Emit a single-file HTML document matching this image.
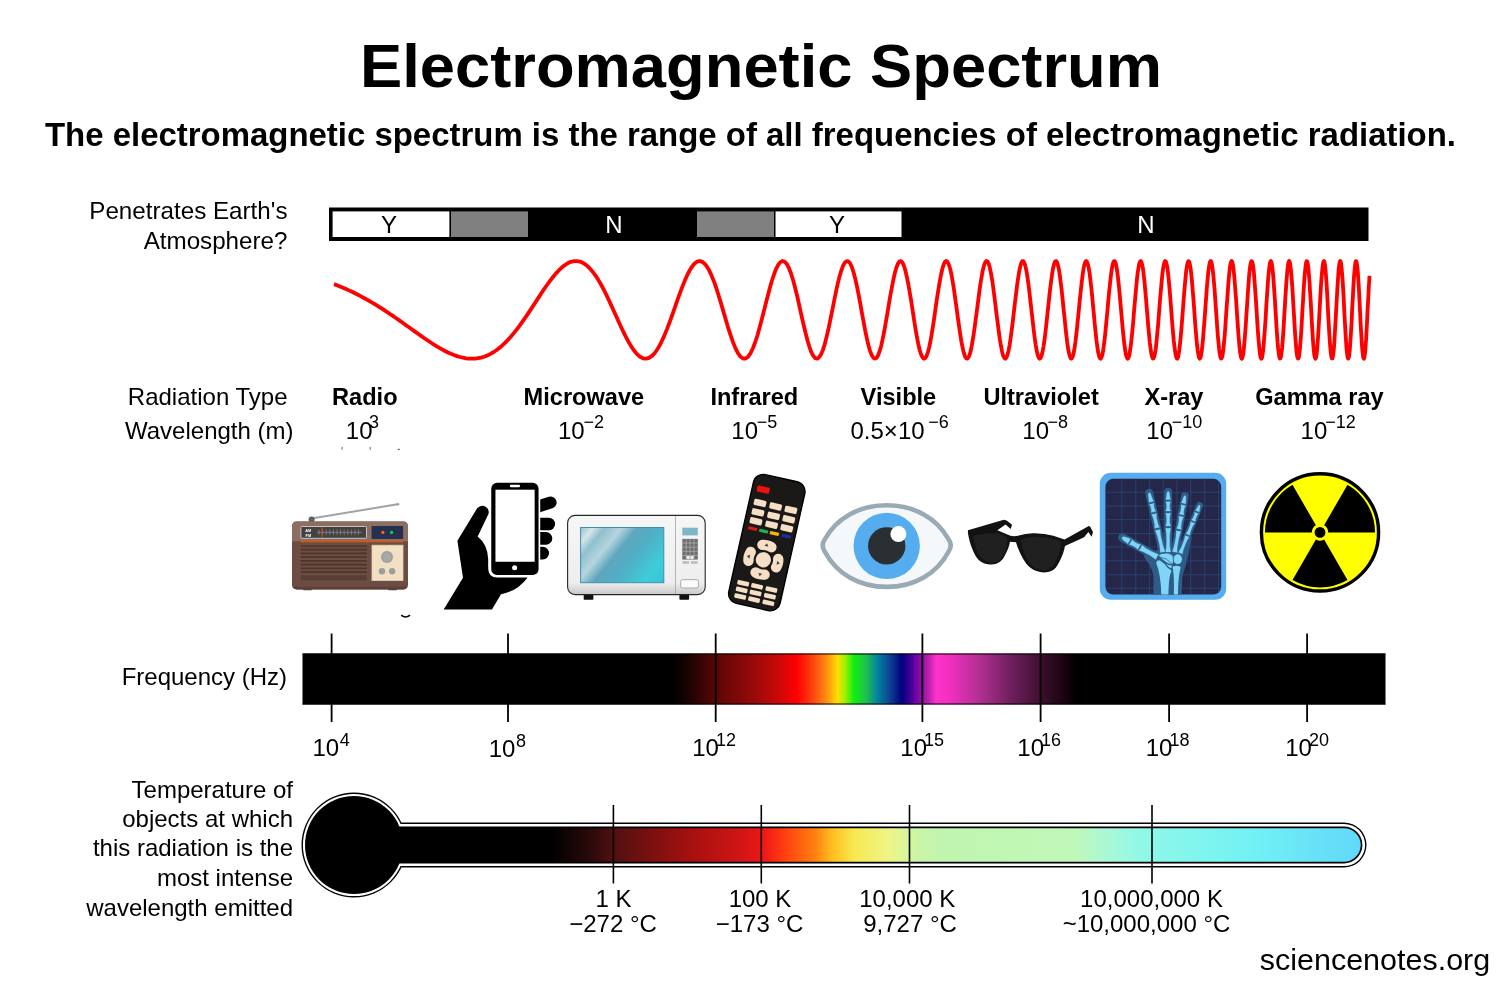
<!DOCTYPE html>
<html lang="en">
<head>
<meta charset="utf-8">
<title>Electromagnetic Spectrum</title>
<style>
html,body{margin:0;padding:0;background:#fff;}
body{width:1500px;height:1000px;overflow:hidden;}
svg{display:block;}
text{font-family:"Liberation Sans",Arial,sans-serif;fill:#000;}
.b{font-weight:bold;}
.l{font-size:24px;}
.s{font-size:18px;}
.e{text-anchor:end;}
.m{text-anchor:middle;}
</style>
</head>
<body>
<svg width="1500" height="1000" viewBox="0 0 1500 1000">
<defs>
<linearGradient id="gf" gradientUnits="userSpaceOnUse" x1="302" y1="0" x2="1386" y2="0">
<stop offset="0.0000" stop-color="#000"/>
<stop offset="0.3432" stop-color="#000"/>
<stop offset="0.3625" stop-color="#2a0404"/>
<stop offset="0.3819" stop-color="#5a0606"/>
<stop offset="0.4179" stop-color="#9a0a0a"/>
<stop offset="0.4400" stop-color="#cc0808"/>
<stop offset="0.4566" stop-color="#ff0000"/>
<stop offset="0.4705" stop-color="#ff4010"/>
<stop offset="0.4843" stop-color="#ff9010"/>
<stop offset="0.4940" stop-color="#ffdd00"/>
<stop offset="0.5009" stop-color="#a0f000"/>
<stop offset="0.5092" stop-color="#10ee10"/>
<stop offset="0.5203" stop-color="#20c050"/>
<stop offset="0.5314" stop-color="#0080a0"/>
<stop offset="0.5424" stop-color="#104090"/>
<stop offset="0.5535" stop-color="#000080"/>
<stop offset="0.5646" stop-color="#6000a0"/>
<stop offset="0.5784" stop-color="#c020b0"/>
<stop offset="0.5853" stop-color="#ff33cc"/>
<stop offset="0.5978" stop-color="#f030c0"/>
<stop offset="0.6255" stop-color="#b03090"/>
<stop offset="0.6531" stop-color="#702060"/>
<stop offset="0.6808" stop-color="#401030"/>
<stop offset="0.7085" stop-color="#100008"/>
<stop offset="0.7140" stop-color="#000"/>
<stop offset="1.0000" stop-color="#000"/>
</linearGradient>
<linearGradient id="gt" gradientUnits="userSpaceOnUse" x1="400" y1="0" x2="1366" y2="0">
<stop offset="0.0000" stop-color="#000"/>
<stop offset="0.1563" stop-color="#000"/>
<stop offset="0.1967" stop-color="#2a0a0a"/>
<stop offset="0.2205" stop-color="#501010"/>
<stop offset="0.2743" stop-color="#8a1010"/>
<stop offset="0.3054" stop-color="#aa1010"/>
<stop offset="0.3520" stop-color="#d01515"/>
<stop offset="0.3768" stop-color="#f01818"/>
<stop offset="0.3986" stop-color="#ff4010"/>
<stop offset="0.4296" stop-color="#ff8010"/>
<stop offset="0.4482" stop-color="#ffc020"/>
<stop offset="0.4700" stop-color="#f8e850"/>
<stop offset="0.5072" stop-color="#eef588"/>
<stop offset="0.5383" stop-color="#c8f5a8"/>
<stop offset="0.5631" stop-color="#c0f5b0"/>
<stop offset="0.6977" stop-color="#c0f8b8"/>
<stop offset="0.7350" stop-color="#a8f8d8"/>
<stop offset="0.7660" stop-color="#90f8e8"/>
<stop offset="0.8282" stop-color="#80f5ee"/>
<stop offset="0.8903" stop-color="#70f0f5"/>
<stop offset="0.9524" stop-color="#68e0f8"/>
<stop offset="1.0000" stop-color="#60d8fa"/>
</linearGradient>
</defs>
<rect width="1500" height="1000" fill="#fff"/>

<!-- headings -->
<text class="b" x="360" y="87" font-size="62" textLength="802" lengthAdjust="spacingAndGlyphs">Electromagnetic Spectrum</text>
<text class="b" x="45" y="146" font-size="32.5" textLength="1411" lengthAdjust="spacingAndGlyphs">The electromagnetic spectrum is the range of all frequencies of electromagnetic radiation.</text>

<!-- atmosphere bar -->
<g id="atm">
<rect x="329" y="207.5" width="1039.5" height="33.5" fill="#000"/>
<rect x="332.6" y="211.4" width="116.8" height="25.6" fill="#fff"/>
<rect x="451" y="211.4" width="77" height="25.6" fill="#808080"/>
<rect x="697" y="211.4" width="77" height="25.6" fill="#808080"/>
<rect x="775.5" y="211.4" width="126" height="25.6" fill="#fff"/>
<text class="l m" x="389" y="232.6">Y</text>
<text class="l m" x="614" y="232.6" style="fill:#fff">N</text>
<text class="l m" x="837" y="232.6">Y</text>
<text class="l m" x="1146" y="232.6" style="fill:#fff">N</text>
</g>
<text class="l e" x="287.5" y="219.1" style="font-size:24.2px">Penetrates Earth's</text>
<text class="l e" x="287.5" y="248.7" style="font-size:24.2px">Atmosphere?</text>

<!-- wave -->
<path id="wave" fill="none" stroke="#ff0000" stroke-width="3.8" stroke-linejoin="round" d="M334.0,284.1 337.0,285.2 340.0,286.5 343.0,287.7 346.0,289.0 349.0,290.4 352.0,291.8 355.0,293.3 358.0,294.8 361.0,296.4 364.0,298.0 367.0,299.6 370.0,301.4 373.0,303.1 376.0,304.9 379.0,306.8 382.0,308.7 385.0,310.7 388.0,312.6 391.0,314.7 394.0,316.7 397.0,318.8 400.0,320.9 403.0,323.0 406.0,325.2 409.0,327.3 412.0,329.5 415.0,331.6 418.0,333.8 421.0,335.9 424.0,338.0 427.0,340.0 430.0,342.0 433.0,344.0 436.0,345.9 439.0,347.7 442.0,349.4 445.0,351.0 448.0,352.5 451.0,353.8 454.0,355.0 457.0,356.1 460.0,357.0 463.0,357.7 466.0,358.3 469.0,358.6 472.0,358.7 475.0,358.6 478.0,358.2 481.0,357.6 484.0,356.7 487.0,355.6 490.0,354.2 493.0,352.5 496.0,350.5 499.0,348.2 502.0,345.7 505.0,342.9 508.0,339.8 511.0,336.5 514.0,332.9 517.0,329.1 520.0,325.1 523.0,320.9 526.0,316.6 529.0,312.1 532.0,307.6 535.0,303.0 538.0,298.4 541.0,293.8 544.0,289.3 547.0,285.0 550.0,280.9 553.0,277.0 556.0,273.4 559.0,270.2 562.0,267.3 565.0,265.0 568.0,263.1 571.0,261.8 574.0,261.1 577.0,261.1 580.0,261.6 583.0,262.9 586.0,264.9 589.0,267.5 592.0,270.9 595.0,274.8 598.0,279.4 601.0,284.5 604.0,290.2 607.0,296.2 610.0,302.6 613.0,309.2 616.0,315.8 619.0,322.5 622.0,329.0 625.0,335.2 628.0,340.9 631.0,346.1 634.0,350.5 637.0,354.1 640.0,356.7 643.0,358.3 646.0,358.7 649.0,357.9 652.0,355.9 655.0,352.7 658.0,348.3 661.0,342.8 664.0,336.4 667.0,329.1 670.0,321.2 673.0,312.8 676.0,304.2 679.0,295.7 682.0,287.6 685.0,280.1 688.0,273.5 691.0,268.1 694.0,264.1 697.0,261.7 699.9,261.0 702.8,262.1 705.7,264.9 708.6,269.2 711.4,275.1 714.2,282.1 717.0,290.2 719.7,299.0 722.4,308.1 725.1,317.3 727.7,326.3 730.4,334.7 733.0,342.1 735.5,348.4 738.1,353.4 740.6,356.8 743.1,358.5 745.6,358.5 748.1,356.7 750.5,353.3 752.9,348.3 755.3,342.0 757.7,334.5 760.0,326.1 762.4,317.1 764.7,307.9 767.0,298.8 769.3,290.0 771.5,282.0 773.8,275.0 776.0,269.2 778.2,264.8 780.4,262.1 782.6,261.0 784.7,261.7 786.9,264.1 789.0,268.2 791.1,273.7 793.2,280.5 795.3,288.4 797.4,297.0 799.4,306.1 801.4,315.3 803.5,324.3 805.5,332.8 807.5,340.5 809.5,347.1 811.4,352.4 813.4,356.1 815.3,358.2 817.3,358.6 819.2,357.3 821.1,354.3 823.0,349.6 824.9,343.6 826.7,336.4 828.6,328.2 830.4,319.4 832.3,310.2 834.1,301.0 835.9,292.2 837.7,283.9 839.5,276.6 841.3,270.5 843.1,265.7 844.8,262.6 846.6,261.1 848.3,261.4 850.1,263.3 851.8,267.0 853.5,272.1 855.2,278.6 856.9,286.2 858.6,294.7 860.3,303.7 861.9,312.9 863.6,322.0 865.2,330.6 866.9,338.6 868.5,345.5 870.1,351.1 871.8,355.3 873.4,357.8 875.0,358.7 876.6,357.8 878.1,355.2 879.7,351.0 881.3,345.4 882.8,338.4 884.4,330.5 885.9,321.8 887.5,312.7 889.0,303.5 890.5,294.5 892.1,286.1 893.6,278.5 895.1,272.0 896.6,266.9 898.1,263.3 899.5,261.3 901.0,261.1 902.5,262.6 903.9,265.8 905.4,270.6 906.8,276.7 908.3,284.0 909.7,292.3 911.2,301.1 912.6,310.3 914.0,319.5 915.4,328.3 916.8,336.4 918.2,343.7 919.6,349.7 921.0,354.3 922.4,357.3 923.8,358.6 925.1,358.2 926.5,356.1 927.9,352.4 929.2,347.1 930.6,340.5 931.9,332.8 933.3,324.3 934.6,315.3 935.9,306.1 937.2,297.1 938.6,288.4 939.9,280.6 941.2,273.8 942.5,268.2 943.8,264.2 945.1,261.7 946.4,261.0 947.6,262.0 948.9,264.7 950.2,269.0 951.5,274.8 952.7,281.8 954.0,289.8 955.2,298.5 956.5,307.6 957.7,316.8 959.0,325.7 960.2,334.1 961.4,341.6 962.7,348.0 963.9,353.1 965.1,356.6 966.3,358.4 967.5,358.5 968.8,356.9 970.0,353.6 971.2,348.8 972.3,342.6 973.5,335.2 974.7,326.9 975.9,318.0 977.1,308.9 978.3,299.7 979.4,290.9 980.6,282.8 981.8,275.7 982.9,269.7 984.1,265.2 985.2,262.3 986.4,261.0 987.5,261.5 988.7,263.7 989.8,267.6 990.9,272.9 992.1,279.6 993.2,287.3 994.3,295.8 995.4,304.8 996.5,314.0 997.7,323.1 998.8,331.7 999.9,339.5 1001.0,346.2 1002.1,351.7 1003.2,355.7 1004.3,358.0 1005.3,358.7 1006.4,357.6 1007.5,354.8 1008.6,350.4 1009.7,344.6 1010.7,337.6 1011.8,329.5 1012.9,320.8 1013.9,311.7 1015.0,302.5 1016.1,293.6 1017.1,285.2 1018.2,277.7 1019.2,271.4 1020.3,266.4 1021.3,263.0 1022.3,261.2 1023.4,261.2 1024.4,262.9 1025.4,266.2 1026.5,271.1 1027.5,277.4 1028.5,284.8 1029.5,293.1 1030.5,302.0 1031.6,311.2 1032.6,320.3 1033.6,329.1 1034.6,337.2 1035.6,344.3 1036.6,350.2 1037.6,354.6 1038.6,357.5 1039.6,358.7 1040.5,358.1 1041.5,355.9 1042.5,352.0 1043.5,346.6 1044.5,339.9 1045.5,332.1 1046.4,323.6 1047.4,314.5 1048.4,305.3 1049.3,296.3 1050.3,287.7 1051.3,280.0 1052.2,273.2 1053.2,267.8 1054.1,263.9 1055.1,261.6 1056.0,261.0 1057.0,262.2 1057.9,265.0 1058.9,269.4 1059.8,275.3 1060.7,282.4 1061.7,290.5 1062.6,299.2 1063.5,308.3 1064.5,317.5 1065.4,326.4 1066.3,334.7 1067.2,342.2 1068.1,348.5 1069.1,353.4 1070.0,356.8 1070.9,358.5 1071.8,358.5 1072.7,356.7 1073.6,353.3 1074.5,348.4 1075.4,342.1 1076.3,334.6 1077.2,326.3 1078.1,317.4 1079.0,308.2 1079.9,299.1 1080.8,290.4 1081.7,282.3 1082.6,275.2 1083.4,269.4 1084.3,265.0 1085.2,262.1 1086.1,261.0 1086.9,261.6 1087.8,263.9 1088.7,267.9 1089.6,273.3 1090.4,280.0 1091.3,287.8 1092.2,296.4 1093.0,305.4 1093.9,314.6 1094.7,323.6 1095.6,332.2 1096.4,339.9 1097.3,346.6 1098.1,352.0 1099.0,355.9 1099.8,358.1 1100.7,358.7 1101.5,357.5 1102.4,354.6 1103.2,350.1 1104.0,344.2 1104.9,337.1 1105.7,329.0 1106.5,320.3 1107.4,311.1 1108.2,302.0 1109.0,293.1 1109.9,284.8 1110.7,277.4 1111.5,271.1 1112.3,266.2 1113.1,262.9 1114.0,261.2 1114.8,261.2 1115.6,263.0 1116.4,266.5 1117.2,271.4 1118.0,277.8 1118.8,285.2 1119.6,293.6 1120.4,302.5 1121.2,311.7 1122.0,320.8 1122.8,329.5 1123.6,337.6 1124.4,344.6 1125.2,350.4 1126.0,354.8 1126.8,357.6 1127.6,358.7 1128.4,358.0 1129.2,355.7 1129.9,351.7 1130.7,346.3 1131.5,339.5 1132.3,331.7 1133.1,323.1 1133.8,314.1 1134.6,304.9 1135.4,295.9 1136.2,287.4 1136.9,279.6 1137.7,273.0 1138.5,267.6 1139.2,263.8 1140.0,261.5 1140.8,261.0 1141.5,262.3 1142.3,265.2 1143.1,269.7 1143.8,275.6 1144.6,282.7 1145.3,290.8 1146.1,299.6 1146.8,308.7 1147.6,317.9 1148.3,326.8 1149.1,335.1 1149.8,342.5 1150.6,348.7 1151.3,353.6 1152.1,356.9 1152.8,358.5 1153.5,358.4 1154.3,356.6 1155.0,353.2 1155.8,348.2 1156.5,341.8 1157.2,334.3 1158.0,326.0 1158.7,317.0 1159.4,307.9 1160.1,298.8 1160.9,290.0 1161.6,282.0 1162.3,275.0 1163.0,269.2 1163.8,264.8 1164.5,262.1 1165.2,261.0 1165.9,261.7 1166.6,264.1 1167.4,268.0 1168.1,273.5 1168.8,280.3 1169.5,288.1 1170.2,296.7 1170.9,305.7 1171.6,314.9 1172.3,324.0 1173.0,332.5 1173.7,340.2 1174.5,346.8 1175.2,352.2 1175.9,356.0 1176.6,358.2 1177.3,358.7 1178.0,357.4 1178.6,354.5 1179.3,350.0 1180.0,344.0 1180.7,336.9 1181.4,328.8 1182.1,320.0 1182.8,310.9 1183.5,301.7 1184.2,292.8 1184.9,284.5 1185.6,277.1 1186.2,270.9 1186.9,266.1 1187.6,262.8 1188.3,261.2 1189.0,261.3 1189.6,263.1 1190.3,266.6 1191.0,271.6 1191.7,278.0 1192.3,285.5 1193.0,293.8 1193.7,302.8 1194.4,311.9 1195.0,321.1 1195.7,329.8 1196.4,337.8 1197.0,344.8 1197.7,350.6 1198.4,354.9 1199.0,357.6 1199.7,358.7 1200.4,358.0 1201.0,355.6 1201.7,351.6 1202.3,346.1 1203.0,339.3 1203.6,331.5 1204.3,322.9 1205.0,313.9 1205.6,304.7 1206.3,295.7 1206.9,287.1 1207.6,279.4 1208.2,272.8 1208.9,267.5 1209.5,263.7 1210.2,261.5 1210.8,261.0 1211.4,262.3 1212.1,265.3 1212.7,269.8 1213.4,275.7 1214.0,282.9 1214.7,291.0 1215.3,299.8 1215.9,308.9 1216.6,318.1 1217.2,327.0 1217.8,335.2 1218.5,342.6 1219.1,348.8 1219.7,353.7 1220.4,356.9 1221.0,358.5 1221.6,358.4 1222.3,356.6 1222.9,353.1 1223.5,348.1 1224.1,341.7 1224.8,334.2 1225.4,325.8 1226.0,316.9 1226.6,307.7 1227.3,298.6 1227.9,289.9 1228.5,281.9 1229.1,274.9 1229.7,269.1 1230.3,264.8 1231.0,262.0 1231.6,261.0 1232.2,261.7 1232.8,264.1 1233.4,268.1 1234.0,273.6 1234.6,280.4 1235.2,288.3 1235.9,296.9 1236.5,305.9 1237.1,315.1 1237.7,324.1 1238.3,332.6 1238.9,340.3 1239.5,346.9 1240.1,352.2 1240.7,356.0 1241.3,358.2 1241.9,358.7 1242.5,357.4 1243.1,354.4 1243.7,349.9 1244.3,343.9 1244.9,336.7 1245.5,328.6 1246.1,319.8 1246.7,310.7 1247.3,301.5 1247.9,292.7 1248.5,284.4 1249.0,277.0 1249.6,270.8 1250.2,266.0 1250.8,262.8 1251.4,261.2 1252.0,261.3 1252.6,263.1 1253.2,266.6 1253.8,271.7 1254.3,278.1 1254.9,285.6 1255.5,294.0 1256.1,302.9 1256.7,312.1 1257.2,321.2 1257.8,329.9 1258.4,337.9 1259.0,344.9 1259.6,350.6 1260.1,355.0 1260.7,357.7 1261.3,358.7 1261.9,358.0 1262.4,355.6 1263.0,351.5 1263.6,346.0 1264.1,339.2 1264.7,331.4 1265.3,322.8 1265.9,313.7 1266.4,304.6 1267.0,295.5 1267.6,287.0 1268.1,279.4 1268.7,272.7 1269.3,267.4 1269.8,263.7 1270.4,261.5 1270.9,261.1 1271.5,262.3 1272.1,265.3 1272.6,269.9 1273.2,275.8 1273.7,283.0 1274.3,291.1 1274.9,299.9 1275.4,309.0 1276.0,318.2 1276.5,327.1 1277.1,335.3 1277.6,342.7 1278.2,348.9 1278.8,353.7 1279.3,357.0 1279.9,358.5 1280.4,358.4 1281.0,356.6 1281.5,353.0 1282.1,348.0 1282.6,341.6 1283.2,334.1 1283.7,325.7 1284.2,316.8 1284.8,307.6 1285.3,298.5 1285.9,289.8 1286.4,281.8 1287.0,274.8 1287.5,269.0 1288.0,264.7 1288.6,262.0 1289.1,261.0 1289.7,261.7 1290.2,264.1 1290.7,268.2 1291.3,273.7 1291.8,280.5 1292.4,288.3 1292.9,296.9 1293.4,306.0 1294.0,315.2 1294.5,324.2 1295.0,332.7 1295.6,340.4 1296.1,347.0 1296.6,352.3 1297.2,356.1 1297.7,358.2 1298.2,358.6 1298.8,357.4 1299.3,354.4 1299.8,349.8 1300.3,343.9 1300.9,336.7 1301.4,328.6 1301.9,319.8 1302.4,310.7 1303.0,301.5 1303.5,292.6 1304.0,284.4 1304.5,277.0 1305.1,270.8 1305.6,266.0 1306.1,262.7 1306.6,261.2 1307.1,261.3 1307.7,263.2 1308.2,266.7 1308.7,271.7 1309.2,278.1 1309.7,285.6 1310.2,294.0 1310.8,302.9 1311.3,312.1 1311.8,321.2 1312.3,329.9 1312.8,337.9 1313.3,344.9 1313.8,350.7 1314.3,355.0 1314.9,357.7 1315.4,358.7 1315.9,358.0 1316.4,355.6 1316.9,351.5 1317.4,346.0 1317.9,339.2 1318.4,331.4 1318.9,322.8 1319.4,313.7 1319.9,304.5 1320.4,295.5 1320.9,287.0 1321.4,279.3 1322.0,272.7 1322.5,267.4 1323.0,263.6 1323.5,261.5 1324.0,261.1 1324.5,262.3 1325.0,265.3 1325.5,269.9 1326.0,275.8 1326.5,283.0 1327.0,291.1 1327.5,299.9 1327.9,309.1 1328.4,318.2 1328.9,327.1 1329.4,335.4 1329.9,342.7 1330.4,348.9 1330.9,353.7 1331.4,357.0 1331.9,358.5 1332.4,358.4 1332.9,356.5 1333.4,353.0 1333.9,348.0 1334.4,341.6 1334.8,334.1 1335.3,325.7 1335.8,316.8 1336.3,307.6 1336.8,298.5 1337.3,289.8 1337.8,281.8 1338.3,274.8 1338.7,269.0 1339.2,264.7 1339.7,262.0 1340.2,261.0 1340.7,261.7 1341.2,264.1 1341.6,268.2 1342.1,273.7 1342.6,280.5 1343.1,288.3 1343.6,296.9 1344.0,306.0 1344.5,315.2 1345.0,324.2 1345.5,332.7 1346.0,340.4 1346.4,347.0 1346.9,352.3 1347.4,356.1 1347.9,358.2 1348.3,358.6 1348.8,357.4 1349.3,354.4 1349.8,349.8 1350.2,343.9 1350.7,336.7 1351.2,328.6 1351.7,319.8 1352.1,310.7 1352.6,301.5 1353.1,292.6 1353.5,284.4 1354.0,277.0 1354.5,270.8 1355.0,266.0 1355.4,262.7 1355.9,261.2 1356.4,261.3 1356.8,263.1 1357.3,266.7 1357.8,271.7 1358.2,278.1 1358.7,285.6 1359.2,294.0 1359.6,302.9 1360.1,312.1 1360.5,321.2 1361.0,329.9 1361.5,337.9 1361.9,344.9 1362.4,350.7 1362.9,355.0 1363.3,357.7 1363.8,358.7 1364.2,358.0 1364.7,355.6 1365.2,351.5 1365.6,346.0 1366.1,339.2 1366.5,331.4 1367.0,322.8 1367.4,313.7 1367.9,304.5 1368.4,295.5 1368.8,287.0 1369.3,279.3 1369.5,275.9"/>

<!-- radiation labels -->
<text class="l e" x="287.5" y="405">Radiation Type</text>
<text class="l e" x="293.5" y="438.5">Wavelength (m)</text>
<text class="l b" x="332" y="405" style="font-size:23.6px">Radio</text>
<text class="l b" x="523.6" y="405" style="font-size:23.6px">Microwave</text>
<text class="l b" x="710.4" y="405" style="font-size:23.6px">Infrared</text>
<text class="l b" x="860.6" y="405" style="font-size:23.6px">Visible</text>
<text class="l b" x="983.4" y="405" style="font-size:23.6px">Ultraviolet</text>
<text class="l b" x="1144.4" y="405" style="font-size:23.6px">X-ray</text>
<text class="l b" x="1255.2" y="405" style="font-size:23.6px">Gamma ray</text>

<text class="l" x="345.8" y="438.5">10<tspan class="s" dx="-3.4" dy="-10.2">3</tspan></text>
<text class="l" x="558" y="438.5">10<tspan class="s" dx="-1.3" dy="-10.2">−2</tspan></text>
<text class="l" x="731.3" y="438.5">10<tspan class="s" dx="-1.3" dy="-10.2">−5</tspan></text>
<text class="l" x="850.5" y="438.5">0.5×10<tspan class="s" dx="3.6" dy="-10.2">−6</tspan></text>
<text class="l" x="1022.3" y="438.5">10<tspan class="s" dx="-1.6" dy="-10.2">−8</tspan></text>
<text class="l" x="1146.3" y="438.5">10<tspan class="s" dx="-1.3" dy="-10.2">−10</tspan></text>
<text class="l" x="1300.6" y="438.5">10<tspan class="s" dx="-2" dy="-10.2">−12</tspan></text>

<g id="radio">
<path d="M311.5,518.5L397.5,504.3" stroke="#a3a3a3" stroke-width="2" fill="none"/>
<circle cx="398" cy="504.2" r="1.3" fill="#9e9e9e"/>
<rect x="308.6" y="516.5" width="6" height="6" rx="2.5" fill="#616161"/>
<rect x="303" y="588" width="9" height="2.2" rx="1" fill="#4e342e"/><rect x="388" y="588" width="9" height="2.2" rx="1" fill="#4e342e"/>
<clipPath id="rc"><rect x="292" y="521.4" width="116" height="68" rx="4.5"/></clipPath>
<g clip-path="url(#rc)"><rect x="292" y="521" width="116" height="69" fill="#6d4c41"/><rect x="292" y="521" width="116" height="20.3" fill="#8d6e63"/><rect x="292" y="586.8" width="116" height="3" fill="#5d4037"/></g>
<rect x="300.6" y="541" width="102.6" height="1.3" fill="#e65100"/>
<rect x="300.9" y="526.5" width="65.6" height="11.8" rx="0.8" fill="#424242" stroke="#d7ccc8" stroke-width="0.9"/>
<text x="305.3" y="531.6" font-size="3.9" font-weight="bold" style="fill:#fff">AM</text><text x="305.6" y="536.6" font-size="3.9" font-weight="bold" style="fill:#fff">FM</text>
<path d="M317,532.4H362" stroke="#9a9a9a" stroke-width="0.6"/>
<path d="M319.0,529.6V535.2M322.6,529.6V535.2M326.2,529.6V535.2M329.8,529.6V535.2M333.4,529.6V535.2M337.0,529.6V535.2M340.6,529.6V535.2M344.2,529.6V535.2M347.8,529.6V535.2M351.4,529.6V535.2M355.0,529.6V535.2M358.6,529.6V535.2" stroke="#9a9a9a" stroke-width="0.6" fill="none"/>
<path d="M322,527.2V537.6" stroke="#e65100" stroke-width="0.9"/>
<rect x="371.6" y="526" width="31.5" height="13" fill="#263050"/>
<circle cx="382.9" cy="532.4" r="1.6" fill="#ff6d00"/><circle cx="391.6" cy="532.4" r="1.6" fill="#00e040"/>
<path d="M300.8,546.00H367M300.8,549.72H367M300.8,553.44H367M300.8,557.16H367M300.8,560.88H367M300.8,564.60H367M300.8,568.32H367M300.8,572.04H367" stroke="#4e342e" stroke-width="1.7" fill="none"/>
<rect x="300.8" y="575" width="66.2" height="5.4" fill="#5d4037"/>
<path d="M302,576.8H366M302,578.8H366" stroke="#4e342e" stroke-width="0.8" stroke-dasharray="1 1" fill="none"/>
<rect x="372" y="545.2" width="31" height="35.4" fill="#f3dfc1" stroke="#e0d0bb" stroke-width="0.8"/>
<circle cx="387" cy="557" r="6" fill="#9e9e9e"/><circle cx="387" cy="557" r="4.6" fill="#a8a8a8"/>
<circle cx="382" cy="571.3" r="3.2" fill="#9e9e9e"/><circle cx="392.1" cy="571.3" r="3.2" fill="#9e9e9e"/>
</g>
<g id="phone" transform="translate(435,475) scale(0.13994)">
<path fill="#000" d="M160,470 L300,240 A42,42 0 0 1 376,292 L305,440 Q375,495 380,600 L380,665 Q380,733 445,733 L662,732 Q590,830 472,852 L407,962 L62,962 L200,735 Z"/>
<clipPath id="fc"><rect x="752" y="100" width="200" height="560"/></clipPath>
<g clip-path="url(#fc)">
<path d="M700,236 L826,197" stroke="#000" stroke-width="86" stroke-linecap="round" fill="none"/>
<rect x="700" y="305" width="158" height="90" rx="45" fill="#000"/>
<rect x="700" y="408" width="138" height="90" rx="45" fill="#000"/>
<rect x="700" y="513" width="115" height="90" rx="45" fill="#000"/>
</g>
<rect x="402" y="55" width="338" height="660" rx="42" fill="#000"/>
<rect x="432" y="105" width="280" height="515" fill="#fff"/>
<rect x="535" y="70" width="73" height="18" rx="9" fill="#fff"/>
<circle cx="569" cy="663" r="18" fill="#fff"/>
</g>
<g id="microwave">
<defs><linearGradient id="mwg" gradientUnits="userSpaceOnUse" x1="578" y1="522" x2="664" y2="592"><stop offset="0" stop-color="#6fb0c4"/><stop offset="0.14" stop-color="#d4e6ea"/><stop offset="0.22" stop-color="#8fc0cf"/><stop offset="0.34" stop-color="#b5d5de"/><stop offset="0.45" stop-color="#5ea6bd"/><stop offset="0.6" stop-color="#4fb0c6"/><stop offset="0.8" stop-color="#3ccdda"/><stop offset="0.92" stop-color="#38c4d4"/><stop offset="1" stop-color="#3d8db0"/></linearGradient>
<linearGradient id="mwb" x1="0" y1="0" x2="0" y2="1"><stop offset="0" stop-color="#f6f6f6"/><stop offset="0.85" stop-color="#eeeeee"/><stop offset="1" stop-color="#c8c8c8"/></linearGradient></defs>
<rect x="583.7" y="593" width="9.7" height="6.8" rx="0.8" fill="#111"/><rect x="679.4" y="593" width="9.7" height="6.8" rx="0.8" fill="#111"/>
<rect x="567.6" y="515.4" width="137.6" height="79.2" rx="7.5" fill="url(#mwb)" stroke="#262626" stroke-width="1.1"/>
<path d="M675.5,516V594" stroke="#aaa" stroke-width="0.9"/>
<rect x="580.6" y="527.5" width="83.2" height="55.2" fill="url(#mwg)" stroke="#3f8fb0" stroke-width="1"/>
<rect x="682.3" y="527.7" width="15.5" height="7.7" fill="#7fb5c8"/>
<rect x="682.3" y="538.9" width="15.5" height="20.7" fill="#6e6e6e"/>
<path d="M686.17,538.9V559.6M690.05,538.9V559.6M693.92,538.9V559.6M682.3,543.04H697.8M682.3,547.18H697.8M682.3,551.32H697.8M682.3,555.46H697.8" stroke="#b5b5b5" stroke-width="0.7" fill="none"/>
<rect x="686.6" y="555.9" width="3.1" height="3.2" fill="#f0f0f0"/><rect x="690.5" y="555.9" width="3.1" height="3.2" fill="#f0f0f0"/>
<rect x="682.5" y="561.2" width="6.6" height="2.6" fill="#bbb"/><rect x="691" y="561.2" width="6.6" height="2.6" fill="#bbb"/>
<rect x="680.6" y="579.6" width="18" height="8.4" rx="2" fill="#fafafa" stroke="#999" stroke-width="0.8"/>
</g>
<g id="remote" transform="translate(766.8,542.6) rotate(12.7)">
<rect x="-26.3" y="-66" width="52.6" height="132" rx="10" fill="#1b1917" stroke="#000" stroke-width="1.4"/>
<rect x="-21.4" y="-54" width="12.6" height="6.2" rx="1" fill="#ee1111"/>
<rect x="-21.5" y="-40.4" width="12.4" height="6.4" rx="1.4" fill="#f5dfc5"/>
<rect x="-5.5" y="-40.4" width="12.4" height="6.4" rx="1.4" fill="#f5dfc5"/>
<rect x="10.1" y="-40.4" width="12.4" height="6.4" rx="1.4" fill="#f5dfc5"/>
<rect x="-21.5" y="-30.8" width="12.4" height="6.4" rx="1.4" fill="#f5dfc5"/>
<rect x="-5.5" y="-30.8" width="12.4" height="6.4" rx="1.4" fill="#f5dfc5"/>
<rect x="10.1" y="-30.8" width="12.4" height="6.4" rx="1.4" fill="#f5dfc5"/>
<rect x="-21.5" y="-21.6" width="12.4" height="6.4" rx="1.4" fill="#f5dfc5"/>
<rect x="-5.5" y="-21.6" width="12.4" height="6.4" rx="1.4" fill="#f5dfc5"/>
<rect x="10.1" y="-21.6" width="12.4" height="6.4" rx="1.4" fill="#f5dfc5"/>
<rect x="-21.5" y="-12.1" width="9.2" height="3.2" rx="0.6" fill="#e01515"/>
<rect x="-10.2" y="-12.1" width="9.2" height="3.2" rx="0.6" fill="#20b050"/>
<rect x="0.8" y="-12.1" width="9.2" height="3.2" rx="0.6" fill="#f5b800"/>
<rect x="13.0" y="-12.1" width="9.2" height="3.2" rx="0.6" fill="#1a2fa0"/>
<circle cx="0.4" cy="17.5" r="7.6" fill="#f5dfc5"/>
<circle cx="0.4" cy="17.5" r="14.9" fill="none" stroke="#f5dfc5" stroke-width="10.4" stroke-linecap="round" stroke-dasharray="9.4 14.005" stroke-dashoffset="4.7"/>
<path fill="#444" d="M0.4,0.6l2,3h-4zM0.4,34.4l2,-3h-4zM-16.5,17.5l3,-2v4zM17.3,17.5l-3,-2v4z"/>
<rect x="-20.0" y="42.5" width="11.8" height="4.6" rx="1.1" fill="#f5dfc5"/>
<rect x="-5.8" y="42.5" width="11.8" height="4.6" rx="1.1" fill="#f5dfc5"/>
<rect x="8.9" y="42.5" width="11.8" height="4.6" rx="1.1" fill="#f5dfc5"/>
<rect x="-20.0" y="49.3" width="11.8" height="4.6" rx="1.1" fill="#f5dfc5"/>
<rect x="-5.8" y="49.3" width="11.8" height="4.6" rx="1.1" fill="#f5dfc5"/>
<rect x="8.9" y="49.3" width="11.8" height="4.6" rx="1.1" fill="#f5dfc5"/>
<rect x="-20.0" y="56.1" width="11.8" height="4.6" rx="1.1" fill="#f5dfc5"/>
<rect x="-5.8" y="56.1" width="11.8" height="4.6" rx="1.1" fill="#f5dfc5"/>
<rect x="8.9" y="56.1" width="11.8" height="4.6" rx="1.1" fill="#f5dfc5"/>
</g>
<g id="eye">
<path d="M825.0,539.0 C836.4,518.3 858.8,505.3 886.7,505.3 C914.6,505.3 937.0,518.3 948.4,539.0 Q953.0,545.4 948.4,552.0 C937.0,573.4 914.6,586.9 886.7,586.9 C858.8,586.9 836.4,573.4 825.0,552.0 Q820.4,545.4 825.0,539.0Z" fill="#f5f8fa" stroke="#99aab5" stroke-width="4.6" stroke-linejoin="round"/>
<circle cx="886.7" cy="545.9" r="33.2" fill="#55acee"/>
<circle cx="886.7" cy="545.9" r="18.7" fill="#292f33"/>
<circle cx="898.4" cy="534.1" r="8" fill="#fff"/>
</g>
<g id="sung" transform="translate(960,505) scale(0.093333)">
<path fill="#121212" d="M85,270 L470,158 L500,165 L558,212 L543,258 L488,208 L400,270 L540,330 Q580,340 620,330 Q700,305 780,303 Q900,300 1000,330 L1120,370 L1380,225 L1395,232 L1425,290 L1410,340 L1375,290 L1330,345 L1125,440 C1110,520 1075,600 1040,650 C1010,700 960,722 900,722 C830,722 760,690 710,630 C660,560 620,470 600,400 L535,395 C530,440 505,500 470,560 C440,610 400,635 340,637 C300,640 240,630 200,590 C140,520 100,400 85,300 Z"/>
<path fill="#202020" d="M140,330 Q260,300 380,300 Q470,315 500,350 C520,420 480,520 440,575 C410,610 370,615 340,615 C280,612 230,580 200,530 C165,460 150,400 140,330 Z"/>
<path fill="#202020" d="M650,375 Q720,340 800,340 Q920,335 1040,375 Q1090,390 1085,420 C1075,500 1045,580 1015,630 C985,680 940,698 900,698 C840,698 780,670 735,610 C690,545 665,460 650,375 Z"/>
</g>
<g id="xray">
<rect x="1099.8" y="472.8" width="126.4" height="127" rx="11" fill="#55acee"/>
<clipPath id="xc"><rect x="1105.4" y="478.8" width="115.8" height="115.7" rx="8"/></clipPath>
<g clip-path="url(#xc)">
<rect x="1105" y="478" width="117" height="117" fill="#24274a"/>
<path d="M1121.8,478V595M1135.75,478V595M1149.7,478V595M1163.2,478V595M1177,478V595M1190.8,478V595M1204.75,478V595M1218.6,478V595M1105,492.25H1222M1105,506H1222M1105,519.6H1222M1105,533.5H1222M1105,547H1222M1105,560.8H1222M1105,574.75H1222M1105,588.25H1222" stroke="#2c5a8a" stroke-width="0.6" fill="none" opacity="0.85"/>
<g transform="translate(1115,480) scale(0.12)">
<path d="M285,108L398,600" stroke="#2e5c86" stroke-width="66" stroke-linecap="round" fill="none"/>
<path d="M443,98L443,600" stroke="#2e5c86" stroke-width="66" stroke-linecap="round" fill="none"/>
<path d="M583,133L498,600" stroke="#2e5c86" stroke-width="64" stroke-linecap="round" fill="none"/>
<path d="M705,212L545,610" stroke="#2e5c86" stroke-width="58" stroke-linecap="round" fill="none"/>
<path d="M62,480L350,640" stroke="#2e5c86" stroke-width="72" stroke-linecap="round" fill="none"/>
<path fill="#2e5c86" d="M335,590 L640,470 L612,620 Q590,720 562,800 L555,960 L320,960 L320,800 Q310,730 250,655 L230,600 Z"/>
<path d="M284,104 C273,111 278,137 281,152 L283,186 L321,177 L307,146 C303,131 297,105 284,104Z" fill="#7fd4f7" stroke="#7fd4f7" stroke-width="2" stroke-linejoin="round"/>
<path d="M285,204 C297,219 297,219 300,235 C304,252 304,252 301,270 L342,261 C331,246 331,246 327,229 C323,213 323,213 326,194Z" fill="#7fd4f7" stroke="#7fd4f7" stroke-width="2" stroke-linejoin="round"/>
<path d="M305,288 C319,315 319,315 325,344 C332,373 332,373 331,403 L372,394 C358,367 358,367 352,338 C345,309 345,309 346,279Z" fill="#7fd4f7" stroke="#7fd4f7" stroke-width="2" stroke-linejoin="round"/>
<path d="M335,421 C353,465 353,465 364,511 C374,557 374,557 378,605 L418,595 C401,551 401,551 390,505 C380,459 380,459 376,412Z" fill="#7fd4f7" stroke="#7fd4f7" stroke-width="2" stroke-linejoin="round"/>
<path d="M443,94 C431,98 430,121 430,134 L423,163 L463,163 L456,134 C456,121 455,98 443,94Z" fill="#7fd4f7" stroke="#7fd4f7" stroke-width="2" stroke-linejoin="round"/>
<path d="M422,181 C430,200 430,200 430,220 C430,239 430,239 422,259 L464,259 C456,239 456,239 456,220 C456,200 456,200 464,181Z" fill="#7fd4f7" stroke="#7fd4f7" stroke-width="2" stroke-linejoin="round"/>
<path d="M422,277 C430,304 430,304 430,331 C430,357 430,357 422,384 L464,384 C456,357 456,357 456,331 C456,304 456,304 464,277Z" fill="#7fd4f7" stroke="#7fd4f7" stroke-width="2" stroke-linejoin="round"/>
<path d="M422,403 C430,452 430,452 430,501 C430,551 430,551 422,600 L464,600 C456,551 456,551 456,501 C456,452 456,452 464,403Z" fill="#7fd4f7" stroke="#7fd4f7" stroke-width="2" stroke-linejoin="round"/>
<path d="M584,129 C571,131 567,152 564,164 L553,190 L591,197 L590,169 C591,156 595,135 584,129Z" fill="#7fd4f7" stroke="#7fd4f7" stroke-width="2" stroke-linejoin="round"/>
<path d="M549,206 C553,227 553,227 549,246 C546,266 546,266 535,284 L575,291 C571,270 571,270 575,251 C578,232 578,232 589,214Z" fill="#7fd4f7" stroke="#7fd4f7" stroke-width="2" stroke-linejoin="round"/>
<path d="M532,301 C534,328 534,328 530,354 C525,380 525,380 513,405 L553,412 C550,385 550,385 555,359 C560,333 560,333 571,308Z" fill="#7fd4f7" stroke="#7fd4f7" stroke-width="2" stroke-linejoin="round"/>
<path d="M510,422 C509,467 509,467 501,511 C493,554 493,554 478,596 L518,604 C519,559 519,559 527,515 C535,472 535,472 549,429Z" fill="#7fd4f7" stroke="#7fd4f7" stroke-width="2" stroke-linejoin="round"/>
<path d="M706,208 C695,208 688,225 684,234 L670,253 L702,266 L705,243 C708,233 715,216 706,208Z" fill="#7fd4f7" stroke="#7fd4f7" stroke-width="2" stroke-linejoin="round"/>
<path d="M663,268 C663,286 663,286 656,303 C650,319 650,319 637,333 L671,346 C671,327 671,327 678,311 C684,295 684,295 697,281Z" fill="#7fd4f7" stroke="#7fd4f7" stroke-width="2" stroke-linejoin="round"/>
<path d="M631,347 C627,375 627,375 617,400 C607,425 607,425 591,448 L624,461 C628,434 628,434 638,409 C648,384 648,384 665,361Z" fill="#7fd4f7" stroke="#7fd4f7" stroke-width="2" stroke-linejoin="round"/>
<path d="M585,463 C577,500 577,500 563,535 C548,571 548,571 528,603 L562,617 C570,579 570,579 584,544 C598,509 598,509 618,476Z" fill="#7fd4f7" stroke="#7fd4f7" stroke-width="2" stroke-linejoin="round"/>
<path d="M59,478 C54,494 73,506 84,513 L107,532 L130,490 L102,481 C90,476 70,466 59,478Z" fill="#7fd4f7" stroke="#7fd4f7" stroke-width="2" stroke-linejoin="round"/>
<path d="M119,540 C140,544 140,544 158,554 C175,564 175,564 190,579 L214,536 C193,532 193,532 175,522 C158,512 158,512 143,497Z" fill="#7fd4f7" stroke="#7fd4f7" stroke-width="2" stroke-linejoin="round"/>
<path d="M202,587 C240,599 240,599 274,618 C307,637 307,637 338,662 L362,618 C325,605 325,605 291,587 C257,568 257,568 227,543Z" fill="#7fd4f7" stroke="#7fd4f7" stroke-width="2" stroke-linejoin="round"/>
<path fill="#7fd4f7" d="M366,632 Q380,610 430,613 Q470,616 486,640 Q492,690 472,702 Q440,700 420,680 Q390,660 366,632Z"/>
<ellipse cx="523" cy="660" rx="35" ry="41" fill="#7fd4f7"/>
<path fill="#7fd4f7" d="M425,695 Q450,715 475,712 L470,735 Q445,730 425,695Z"/>
<path d="M370,640 Q430,648 480,702 M484,622 L489,702" stroke="#2e5c86" stroke-width="6" fill="none"/>
<path fill="#7fd4f7" d="M343,690 Q350,666 375,670 Q420,698 440,733 Q465,743 472,760 Q448,790 445,960 L385,960 Q385,800 343,690Z"/>
<path fill="#7fd4f7" d="M480,722 Q510,705 548,725 Q525,800 525,960 L490,960 Q495,800 480,722Z"/>
</g></g></g>
<g id="rad">
<circle cx="1320" cy="532.4" r="58.6" fill="#ffff00" stroke="#000" stroke-width="3.4"/>
<path fill="#000" d="M1324.10,539.50 L1347.50,580.03 A55,55 0 0 1 1292.50,580.03 L1315.90,539.50 A8.2,8.2 0 0 0 1324.10,539.50Z"/>
<path fill="#000" d="M1311.80,532.40 L1265.00,532.40 A55,55 0 0 1 1292.50,484.77 L1315.90,525.30 A8.2,8.2 0 0 0 1311.80,532.40Z"/>
<path fill="#000" d="M1324.10,525.30 L1347.50,484.77 A55,55 0 0 1 1375.00,532.40 L1328.20,532.40 A8.2,8.2 0 0 0 1324.10,525.30Z"/>
<circle cx="1320" cy="532.4" r="5.4" fill="#000"/>
</g>
<g id="misc"><rect x="341.5" y="447" width="1.3" height="2.8" fill="#889"/><rect x="369.6" y="447" width="1.3" height="2.8" fill="#889"/><rect x="397.8" y="448.8" width="2" height="1.1" fill="#555"/><path d="M401.2,615.2Q405.6,618.6 410,615.2" stroke="#000" stroke-width="1.5" fill="none"/></g>


<!-- frequency bar -->
<text class="l e" x="287" y="685">Frequency (Hz)</text>
<g id="freq">
<rect x="302.5" y="653.5" width="1083" height="51" fill="url(#gf)"/>
<path d="M302.5,654H1385.5M302.5,704H1385.5" stroke="#000" stroke-width="1.2" fill="none"/>
<path d="M331.6,633.4V722M508,633.4V722M715.7,633.4V722M922.4,633.4V722M1040.6,633.4V722M1169.1,633.4V722M1307.1,633.4V722" stroke="#000" stroke-width="1.8" fill="none"/>
</g>
<text class="l" x="312.4" y="756.4">10<tspan class="s" dx="0.6" dy="-10.2">4</tspan></text>
<text class="l" x="488.7" y="757.4">10<tspan class="s" dx="0.7" dy="-10.2">8</tspan></text>
<text class="l" x="692.2" y="756">10<tspan class="s" dx="-3" dy="-10.2">12</tspan></text>
<text class="l" x="900.3" y="756">10<tspan class="s" dx="-3" dy="-10.2">15</tspan></text>
<text class="l" x="1017.3" y="756">10<tspan class="s" dx="-3" dy="-10.2">16</tspan></text>
<text class="l" x="1145.7" y="756">10<tspan class="s" dx="-3" dy="-10.2">18</tspan></text>
<text class="l" x="1285.2" y="756">10<tspan class="s" dx="-3" dy="-10.2">20</tspan></text>

<!-- thermometer -->
<text class="l e" x="293" y="797.6">Temperature of</text>
<text class="l e" x="293" y="827">objects at which</text>
<text class="l e" x="293" y="856.4">this radiation is the</text>
<text class="l e" x="293" y="885.8">most intense</text>
<text class="l e" x="293" y="915.5">wavelength emitted</text>
<g id="thermo">
<circle cx="354" cy="845" r="52.5" fill="#000"/><rect x="380" y="822.5" width="986.5" height="45" rx="22.5" fill="#000"/>
<circle cx="354" cy="845" r="51.1" fill="#fff"/><rect x="380" y="823.9" width="985.1" height="42.2" rx="21.1" fill="#fff"/>
<circle cx="354" cy="845" r="49" fill="#000"/><rect x="380" y="826.6" width="982.4" height="36.8" rx="18.4" fill="#000"/>
<rect x="396" y="828.3" width="964.7" height="33.4" rx="16.7" fill="url(#gt)"/>
<path d="M613.4,805V883.6M761.3,805V883.6M909.5,805V883.6M1152,805V883.6" stroke="#000" stroke-width="1.6" fill="none"/>
</g>
<text class="l m" x="613.4" y="906.5">1 K</text>
<text class="l m" x="613" y="932">−272 °C</text>
<text class="l m" x="760" y="906.5">100 K</text>
<text class="l m" x="759.5" y="932">−173 °C</text>
<text class="l m" x="907.3" y="906.5">10,000 K</text>
<text class="l m" x="910" y="932">9,727 °C</text>
<text class="l m" x="1151.5" y="906.5">10,000,000 K</text>
<text class="l m" x="1146.5" y="932">~10,000,000 °C</text>

<text x="1259.8" y="970.3" font-size="29.7" textLength="230.4" lengthAdjust="spacingAndGlyphs">sciencenotes.org</text>
</svg>
</body>
</html>
